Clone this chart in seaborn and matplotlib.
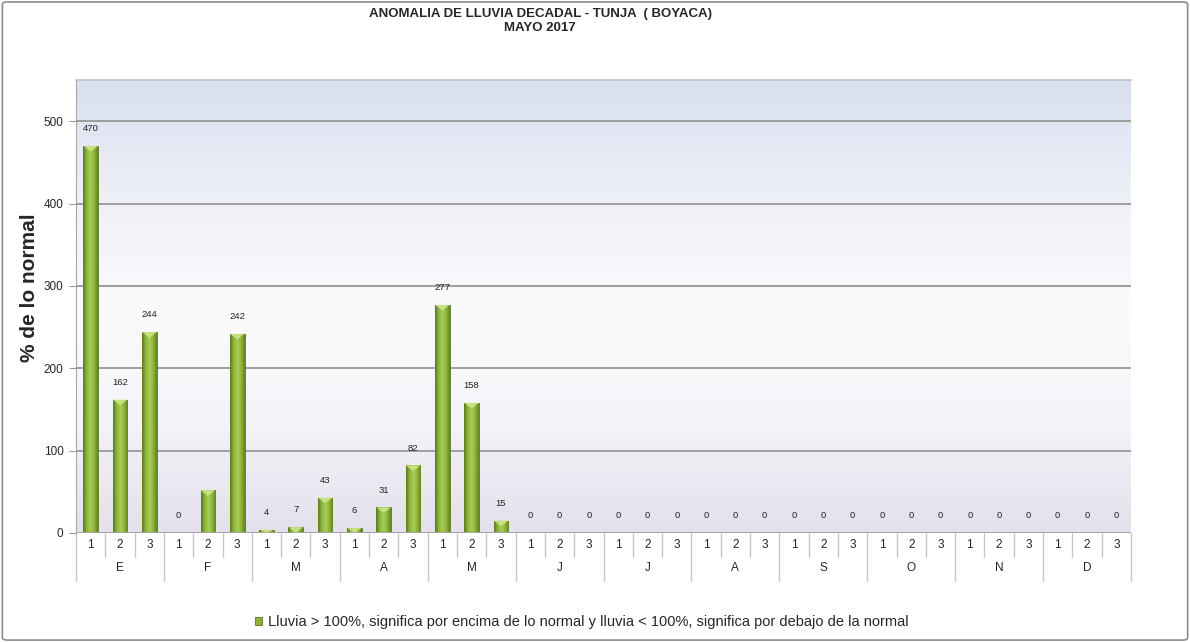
import matplotlib
matplotlib.use("Agg")
import matplotlib.pyplot as plt
import matplotlib.transforms as mtransforms
from matplotlib.colors import LinearSegmentedColormap
from matplotlib.patches import Patch, FancyBboxPatch
import numpy as np
import pandas as pd
import seaborn as sns

months = ["E", "F", "M", "A", "M", "J", "J", "A", "S", "O", "N", "D"]
decades = ["1", "2", "3"]
values = [470, 162, 244, 0, 52, 242, 4, 7, 43, 6, 31, 82, 277, 158, 15,
          0, 0, 0, 0, 0, 0, 0, 0, 0, 0, 0, 0, 0, 0, 0, 0, 0, 0, 0, 0, 0]
# the second February bar carries no label in the original
labels = ["470", "162", "244", "0", "", "242", "4", "7", "43", "6", "31", "82",
          "277", "158", "15"] + ["0"] * 21
yticks = [0, 100, 200, 300, 400, 500]

df = pd.DataFrame({
    "slot": [f"{i:02d}" for i in range(len(values))],
    "valor": values,
})

sns.set_style("white")
plt.rcParams["font.family"] = ["Liberation Sans", "DejaVu Sans"]

fig = plt.figure(figsize=(11.9, 6.42), dpi=100)
ax = fig.add_axes([0.0639, 0.1698, 0.8865, 0.7056])

# outer frame of the chart
fig.patches.append(FancyBboxPatch((0.002, 0.003), 0.996, 0.994,
                                  boxstyle="round,pad=0,rounding_size=0.004",
                                  transform=fig.transFigure, fill=False,
                                  edgecolor="#8c8c8c", linewidth=1.2))

sns.barplot(data=df, x="slot", y="valor", color="#86ac38", width=0.5,
            edgecolor="#5b7a1e", linewidth=0.6, ax=ax, zorder=3)

ax.set_ylim(0, 550)
ax.set_xlim(-0.5, len(values) - 0.5)

# plot area background gradient
bg = LinearSegmentedColormap.from_list(
    "bg", ["#e4e0ec", "#f5f4f8", "#fbfbfd", "#eef0f7", "#d9dff0"])
grad = np.linspace(0, 1, 256).reshape(-1, 1)
ax.imshow(grad, aspect="auto", cmap=bg, origin="lower",
          extent=(-0.5, len(values) - 0.5, 0, 550), zorder=0)

# cylinder-like shading of the bars
barcm = LinearSegmentedColormap.from_list(
    "bar", ["#5a7a1a", "#8fb53f", "#a9cc55", "#8fb53f", "#62841f"])
hgrad = np.linspace(0, 1, 64).reshape(1, -1)
for p in ax.patches:
    h = p.get_height()
    if h <= 0:
        continue
    x0, w = p.get_x(), p.get_width()
    im = ax.imshow(hgrad, aspect="auto", cmap=barcm,
                   extent=(x0, x0 + w, 0, h), zorder=4)
    im.set_clip_path(p)
    # lighter bevel at the top of the bar
    cap = min(h, 7)
    ax.fill([x0, x0 + w, x0 + 0.5 * w], [h, h, h - cap], color="#cfe58a",
            alpha=0.85, zorder=5, linewidth=0)

# data labels
for i, (v, lab) in enumerate(zip(values, labels)):
    if lab:
        ax.annotate(lab, (i, v), xytext=(0, 12.5), textcoords="offset points",
                    ha="center", va="center", fontsize=6.8, color="#222222")

ax.set_yticks(yticks)
ax.set_yticklabels([str(t) for t in yticks], fontsize=8.5)
ax.tick_params(axis="y", length=5, width=0.8, color="#999999", left=True,
               pad=4)
ax.grid(axis="y", color="#9e9e9e", linewidth=1.4, zorder=1)
ax.set_axisbelow(False)
for line in ax.get_ygridlines():
    line.set_zorder(1)

ax.set_xticks([])
ax.set_xlabel("")
ax.set_ylabel("% de lo normal", fontsize=15, fontweight="bold")
ax.yaxis.set_label_coords(-0.035, 0.541)

for s in ["right", "bottom"]:
    ax.spines[s].set_visible(False)
ax.spines["left"].set_color("#a8a8a8")
ax.spines["top"].set_color("#c0c0c0")
ax.spines["top"].set_linewidth(1.2)
ax.axhline(0, color="#a8a8a8", linewidth=1.2, zorder=6)

# two-level category axis
trans = mtransforms.blended_transform_factory(ax.transData, ax.transAxes)
n = len(values)
for i in range(n):
    ax.text(i, -0.027, decades[i % 3], transform=trans, ha="center",
            va="center", fontsize=8.5, clip_on=False)
for m, name in enumerate(months):
    ax.text(3 * m + 1, -0.078, name, transform=trans, ha="center",
            va="center", fontsize=8.5, clip_on=False)
for k in range(n + 1):
    bottom = -0.105 if k % 3 == 0 else -0.052
    ax.plot([k - 0.5, k - 0.5], [0, bottom], transform=trans,
            color="#c8c8c8", linewidth=1.0, clip_on=False)

fig.text(0.454, 0.978, "ANOMALIA DE LLUVIA DECADAL - TUNJA  ( BOYACA)",
         ha="center", va="center", fontsize=9.5, fontweight="bold")
fig.text(0.454, 0.957, "MAYO 2017", ha="center", va="center",
         fontsize=9.5, fontweight="bold")

handle = Patch(facecolor="#8cb23e", edgecolor="#5b7a1e", linewidth=0.6)
fig.legend([handle],
           ["Lluvia > 100%, significa por encima de lo normal y lluvia < 100%, "
            "significa por debajo de la normal"],
           loc="center", bbox_to_anchor=(0.489, 0.031), frameon=False,
           fontsize=10.5, handlelength=0.5, handleheight=0.5,
           handletextpad=0.4)

fig.savefig("out.png", dpi=100)
